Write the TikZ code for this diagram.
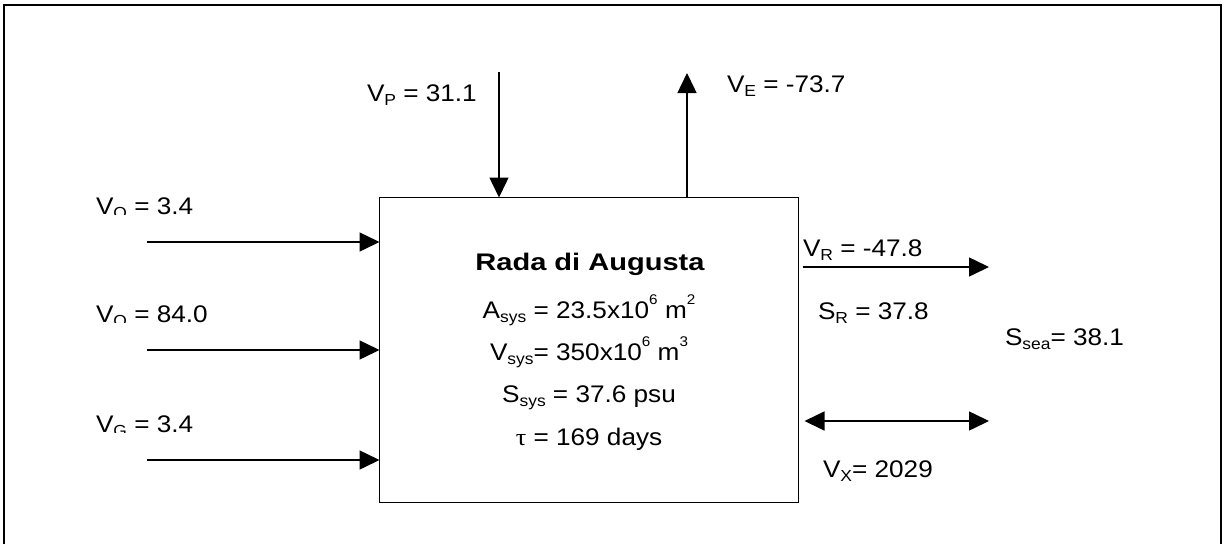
\documentclass[tikz,border=0pt]{standalone}
\usepackage{fontspec}
\setmainfont{Liberation Sans}[FakeStretch=1.09]
\newfontfamily\titlefont{Liberation Sans}[FakeStretch=1.21]
\newfontfamily\greekfont{Liberation Serif}[FakeStretch=1.09]
\usetikzlibrary{arrows.meta}
\newcommand\sbs[1]{\raisebox{-0.17em}{\fontsize{16}{16}\selectfont #1}}
\newcommand\sps[1]{\raisebox{0.55em}{\fontsize{14}{14}\selectfont #1}}
\begin{document}
\begin{tikzpicture}[x=1pt,y=-1pt,
  every node/.style={inner sep=0pt,outer sep=0pt,font=\fontsize{24}{28}\selectfont},
  lbl/.style={anchor=base west},
  ctr/.style={anchor=base},
  flow/.style={line width=1.5pt,-{Triangle[length=20pt,width=19pt]}},
  both/.style={line width=1.5pt,{Triangle[length=20pt,width=19pt]}-{Triangle[length=20pt,width=19pt]}},
  frame/.style={line width=1.6pt}]
\useasboundingbox (0,0) rectangle (1225,544);
\draw[frame] (4,544) -- (4,5) -- (1221,5) -- (1221,544);
\node[draw, frame, minimum width=419pt, minimum height=305pt] (box) at (589,350) {};
% left inflows
\coordinate (q0) at (147,242);
\coordinate (o0) at (147,350);
\coordinate (g0) at (147,460);
\draw[flow] (q0) -- (q0 -| box.west);
\draw[flow] (o0) -- (o0 -| box.west);
\draw[flow] (g0) -- (g0 -| box.west);
\begin{scope}\clip (80,180) rectangle (300,214.5);
\node[lbl] (lq) at (96,214) {V\sbs{Q} = 3.4};\end{scope}
\begin{scope}\clip (80,290) rectangle (300,322.5);
\node[lbl] (lo) at (96,322) {V\sbs{O} = 84.0};\end{scope}
\begin{scope}\clip (80,395) rectangle (300,432.5);
\node[lbl] (lg) at (96,432) {V\sbs{G} = 3.4};\end{scope}
% precipitation and evaporation
\coordinate (p0) at (499,72);
\coordinate (e0) at (687,73);
\draw[flow] (p0) -- (p0 |- box.north);
\draw[flow] (e0 |- box.north) -- (e0);
\node[lbl] (lp) at (367,101) {V\sbs{P} = 31.1};
\node[lbl] (le) at (727,92) {V\sbs{E} = -73.7};
% right side
\coordinate (r1) at (989,267);
\coordinate (x1) at (989,421);
\draw[flow] ([xshift=4pt]r1 -| box.east) -- (r1);
\draw[both] ([xshift=6pt]x1 -| box.east) -- (x1);
\node[lbl] (lr) at (803,256) {V\sbs{R} = -47.8};
\node[lbl] (sr) at (818,319) {S\sbs{R} = 37.8};
\node[lbl] (ss) at (1005,345) {S\sbs{sea}= 38.1};
\node[lbl] (lx) at (823,477) {V\sbs{X}= 2029};
% box text
\node[ctr,font=\fontsize{24}{28}\titlefont\bfseries] (t0) at (590,270) {Rada di Augusta};
\node[ctr] (t1) at (589,318) {A\sbs{sys} = 23.5x10\sps{6} m\sps{2}};
\node[ctr] (t2) at (589,360) {V\sbs{sys}= 350x10\sps{6} m\sps{3}};
\node[ctr] (t3) at (589,402) {S\sbs{sys} = 37.6 psu};
\node[ctr] (t4) at (589,445) {{\greekfont\char"03C4} = 169 days};
\end{tikzpicture}
\end{document}
